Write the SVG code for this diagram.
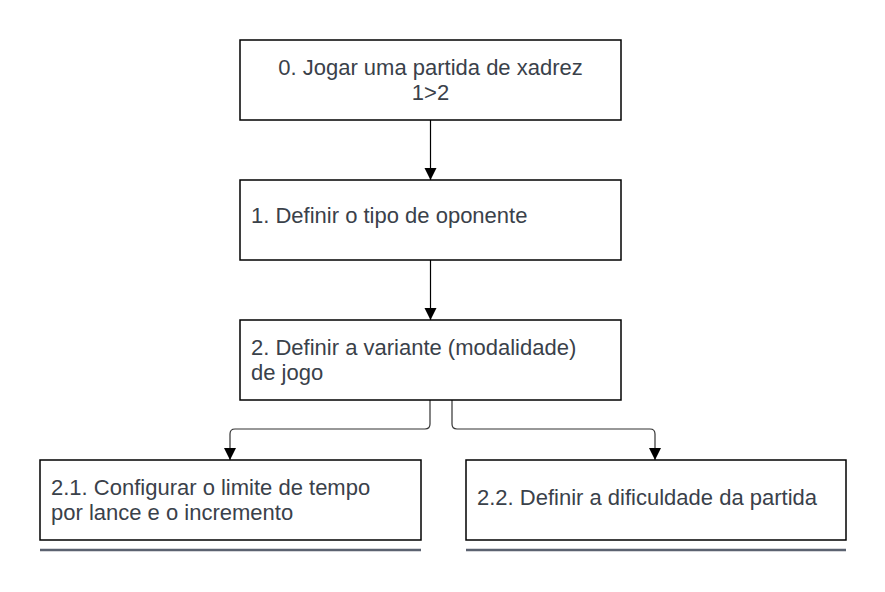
<svg xmlns="http://www.w3.org/2000/svg" width="885" height="592" viewBox="0 0 885 592">
<defs>
<style>
.box{fill:#fff;stroke:#000;stroke-width:1.5}
.t{font-family:"Liberation Sans",Arial,sans-serif;font-size:22px;fill:#3a414a}
.c{fill:none;stroke:#000;stroke-width:1.2}
.c2{fill:none;stroke:#333;stroke-width:1.2}
.ul{stroke:#5b6270;stroke-width:2.5}
</style>
<marker id="ah" markerWidth="12" markerHeight="18" refX="11" refY="5.5" orient="auto" markerUnits="userSpaceOnUse" viewBox="0 0 11 11">
<path d="M0,0 L11,5.5 L0,11 Z" fill="#000"/>
</marker>
</defs>
<rect width="885" height="592" fill="#fff"/>
<g id="connectors">
<path class="c" d="M430.5,120 V180" marker-end="url(#ah)"/>
<path class="c" d="M430.5,260 V320" marker-end="url(#ah)"/>
<path class="c2" d="M430,400 V424 Q430,429 425,429 H235 Q230,429 230,434 V460" marker-end="url(#ah)"/>
<path class="c2" d="M452,400 V424 Q452,429 457,429 H650 Q655,429 655,434 V460" marker-end="url(#ah)"/>
</g>
<g id="n0">
<rect class="box" x="240" y="40" width="381" height="80"/>
<text class="t" x="430.5" y="75" text-anchor="middle">0. Jogar uma partida de xadrez</text>
<text class="t" x="430.5" y="100" text-anchor="middle">1&gt;2</text>
</g>
<g id="n1">
<rect class="box" x="240" y="180" width="381" height="80"/>
<text class="t" x="251" y="223">1. Definir o tipo de oponente</text>
</g>
<g id="n2">
<rect class="box" x="240" y="320" width="381" height="80"/>
<text class="t" x="251" y="355">2. Definir a variante (modalidade)</text>
<text class="t" x="251" y="380">de jogo</text>
</g>
<g id="n21">
<rect class="box" x="40" y="460" width="381" height="80"/>
<text class="t" x="51" y="495">2.1. Configurar o limite de tempo</text>
<text class="t" x="51" y="520">por lance e o incremento</text>
<line class="ul" x1="40" y1="550" x2="421" y2="550"/>
</g>
<g id="n22">
<rect class="box" x="466" y="460" width="380" height="80"/>
<text class="t" x="477" y="505">2.2. Definir a dificuldade da partida</text>
<line class="ul" x1="466" y1="550" x2="846" y2="550"/>
</g>
</svg>
